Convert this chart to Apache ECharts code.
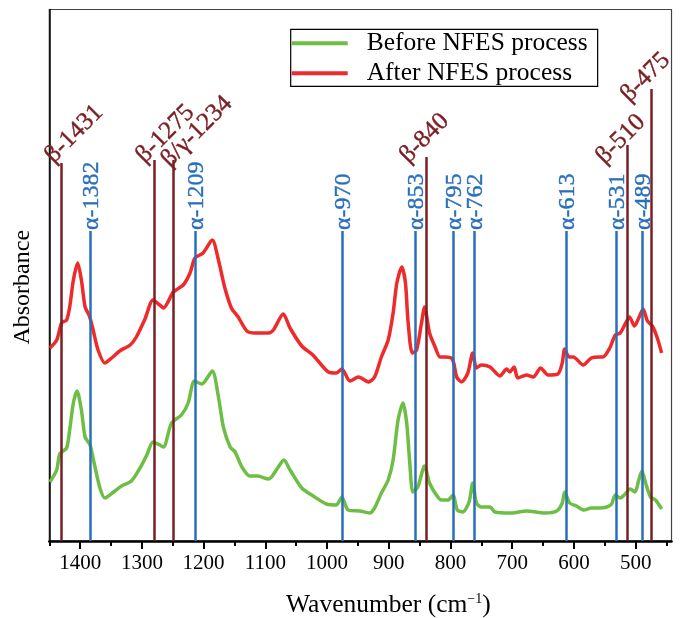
<!DOCTYPE html>
<html><head><meta charset="utf-8">
<script src="https://cdn.jsdelivr.net/npm/echarts@6/dist/echarts.min.js"></script>
<style>html,body{margin:0;padding:0;background:#fff}#c{width:687px;height:618px}</style>
</head><body><div id="c"></div>
<script>
// Wavenumber (cm-1), absorbance (arbitrary units, offset traces)
const beforeData = [[1449,59],[1438,71],[1433,87],[1422,93],[1417,111],[1411,138],[1405,150],[1398,131],[1392,104],[1384,96],[1376,74],[1368,53],[1360,43],[1346,49],[1333,55],[1317,60],[1303,73],[1292,86],[1282,99],[1271,96],[1265,94],[1252,118],[1236,126],[1225,138],[1215,160],[1203,157],[1186,170],[1176,144],[1168,114],[1157,94],[1149,89],[1138,74],[1125,65],[1112,65],[1095,62],[1090,64],[1079,74],[1070,81],[1060,71],[1041,53],[1020,44],[1001,37],[985,36],[976,44],[966,31],[947,30],[931,28],[923,33],[912,48],[901,61],[893,81],[885,121],[877,138],[871,118],[866,78],[861,49],[853,54],[842,75],[834,58],[823,46],[815,41],[804,41],[796,46],[789,31],[780,29],[770,39],[764,58],[758,38],[750,34],[736,34],[728,29],[701,28],[677,30],[647,28],[628,30],[619,38],[615,49],[607,38],[596,35],[584,31],[572,33],[558,33],[547,34],[539,37],[533,46],[525,43],[517,47],[509,52],[501,49],[495,61],[490,70],[483,56],[476,44],[468,41],[458,32]];
const afterData = [[1449,193],[1438,201],[1430,218],[1422,221],[1417,234],[1411,261],[1404,278],[1398,261],[1392,234],[1385,225],[1379,211],[1371,191],[1360,178],[1349,183],[1336,190],[1319,196],[1309,204],[1295,222],[1282,241],[1271,236],[1265,233],[1249,249],[1233,256],[1222,268],[1214,283],[1201,288],[1186,301],[1176,281],[1166,254],[1155,233],[1144,224],[1130,210],[1117,208],[1095,208],[1087,211],[1071,227],[1060,213],[1041,195],[1023,186],[998,169],[985,168],[976,172],[963,160],[949,164],[933,159],[923,164],[912,184],[901,201],[893,228],[887,258],[879,274],[873,258],[869,221],[862,188],[855,191],[847,218],[842,234],[834,208],[825,194],[817,184],[809,184],[797,182],[790,164],[782,159],[772,168],[764,188],[758,173],[750,176],[736,174],[720,165],[709,172],[704,169],[697,174],[691,163],[677,166],[666,164],[654,173],[642,166],[626,167],[619,178],[615,192],[608,184],[601,184],[585,176],[572,183],[558,184],[553,184],[542,193],[533,206],[525,208],[517,217],[510,224],[502,215],[495,223],[488,232],[481,220],[473,215],[465,203],[458,188]];

const alphaPos = [1384,1214,976,857,796,762,613,531,489];
const alphaLabels = ['α-1382','α-1209','α-970','α-853','α-795','α-762','α-613','α-531','α-489'];
const alphaTop = [310,310,310,310,310,310,310,310,310];
const betaPos = [1431,1280,1249,840,514,474];
const betaLabels = ['β-1431','β-1275','β/γ-1234','β-840','β-510','β-475'];
const betaTop = [378,381,381,384,396,452];

const majorTicks = [1400,1300,1200,1100,1000,900,800,700,600,500];
const minorTicks = [1450,1350,1250,1150,1050,950,850,750,650,550,450];

// label placement: screen px offsets of the label start from the line top (styling only)
const alphaScreenOffsets = alphaPos.map(() => [1.5, -1]);
const betaScreenOffsets = [[-12,-4],[-14,-1],[-8,3],[-22,2],[-27,15],[-27,9]];

// label offsets are applied in the rotated text frame; convert from screen px
function toLocal(off, deg) {
  const r = deg * Math.PI / 180, c = Math.cos(r), s = Math.sin(r);
  return [c * off[0] - s * off[1], s * off[0] + c * off[1]];
}

const FONT = 'Liberation Serif';
const BLUE = '#2a6fba', DRED = '#7a2024', RED = '#ee2a2a', GREEN = '#6cbf44';

function refSeries(name, pos, tops, labels, offsets, color, rot, fs) {
  return {
    name: name, type: 'scatter', xAxisIndex: 0, z: 5,
    symbolSize: 1, itemStyle: {color: color, opacity: 0},
    data: pos.map((v, i) => ({
      value: [v, tops[i]],
      label: {offset: toLocal(offsets[i], rot)}
    })),
    label: {
      show: true, position: 'inside', rotate: rot, align: 'left', verticalAlign: 'middle',
      formatter: p => labels[p.dataIndex], color: color, fontSize: fs, fontFamily: FONT,
      textBorderColor: color, textBorderWidth: 0.4, opacity: 1
    },
    markLine: {
      silent: true, symbol: 'none', animation: false,
      lineStyle: {color: color, width: 2.5, type: 'solid', opacity: 1},
      label: {show: false},
      data: pos.map((v, i) => [{coord: [v, 0]}, {coord: [v, tops[i]]}])
    }
  };
}

const chart = echarts.init(document.getElementById('c'));
chart.setOption({
  animation: false,
  backgroundColor: '#fff',
  grid: {left: 49.3, right: 15.5, top: 9.5, bottom: 77, outerBoundsMode: 'none', containLabel: false,
         show: true, borderColor: '#444', borderWidth: 1.2},
  legend: {
    orient: 'vertical', left: 290.7, top: 29.3,
    data: ['Before NFES process', 'After NFES process'],
    icon: 'rect', itemWidth: 56, itemHeight: 4, itemGap: 4,
    borderColor: '#000', borderWidth: 1.2, padding: [1, 10, 0, 1],
    textStyle: {fontSize: 25.5, fontFamily: FONT, color: '#000', padding: [0, 0, 0, 14]}
  },
  xAxis: [{
    type: 'value', min: 442, max: 1450, inverse: true, position: 'bottom',
    axisLine: {show: true, lineStyle: {color: '#000', width: 2.5}},
    axisTick: {show: true, customValues: majorTicks, length: 8, lineStyle: {color: '#000', width: 2}},
    axisLabel: {customValues: majorTicks, formatter: v => String(v), fontSize: 21, fontFamily: FONT, color: '#000', margin: 12},
    splitLine: {show: false},
    name: 'Wavenumber (cm{sup|−1})', nameLocation: 'middle', nameGap: 51,
    nameTextStyle: {fontSize: 25.5, fontFamily: FONT, color: '#000', padding: [0, 0, 0, 56],
      rich: {sup: {fontSize: 14, fontFamily: FONT, color: '#000', padding: [0, 0, 12, 0]}}}
  }, {
    type: 'value', min: 442, max: 1450, inverse: true, position: 'bottom',
    axisLine: {show: false},
    axisTick: {show: true, customValues: minorTicks, length: 5, lineStyle: {color: '#000', width: 2}},
    axisLabel: {show: false}, splitLine: {show: false}
  }],
  yAxis: {
    type: 'value', min: 0, max: 531.5,
    axisLine: {show: true, lineStyle: {color: '#000', width: 1.5}},
    axisTick: {show: false}, axisLabel: {show: false}, splitLine: {show: false},
    name: 'Absorbance', nameLocation: 'middle', nameGap: 15,
    nameTextStyle: {fontSize: 24, fontFamily: FONT, color: '#000', padding: [0, 24, 0, 0]}
  },
  series: [
    {name: 'Before NFES process', type: 'line', data: beforeData, smooth: 0.25, showSymbol: false,
     lineStyle: {color: GREEN, width: 3.5}, itemStyle: {color: GREEN}, z: 3},
    {name: 'After NFES process', type: 'line', data: afterData, smooth: 0.25, showSymbol: false,
     lineStyle: {color: RED, width: 3.5}, itemStyle: {color: RED}, z: 3},
    refSeries('alpha', alphaPos, alphaTop, alphaLabels, alphaScreenOffsets, BLUE, 90, 24),
    refSeries('beta', betaPos, betaTop, betaLabels, betaScreenOffsets, DRED, 45, 25)
  ]
});
</script>
</body></html>
